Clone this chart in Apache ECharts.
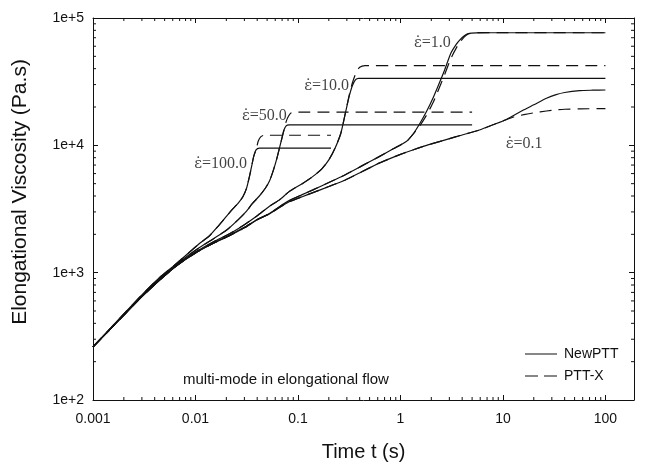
<!DOCTYPE html>
<html><head><meta charset="utf-8">
<script src="https://cdn.jsdelivr.net/npm/echarts@6/dist/echarts.min.js"></script>
<style>html,body{margin:0;padding:0;background:#fff}#c{width:645px;height:467px}</style>
</head><body><div id="c"></div>
<script>
// ---- tick labels ----
const xTickValues = [0.001, 0.01, 0.1, 1, 10, 100];
const xTickLabels = ['0.001', '0.01', '0.1', '1', '10', '100'];
const yTickValues = [100, 1000, 10000, 100000];
const yTickLabels = ['1e+2', '1e+3', '1e+4', '1e+5'];

// ---- series: [time t (s), elongational viscosity (Pa.s)] ----
const newPTT_0_1 = [[0.001,262],[0.0015,365],[0.002,465],[0.003,650],[0.0045,880],[0.0065,1130],[0.01,1430],[0.015,1700],[0.0215,1950],[0.03,2250],[0.04,2600],[0.052,2880],[0.066,3250],[0.082,3600],[0.11,3950],[0.14,4250],[0.2,4750],[0.29,5350],[0.42,6200],[0.62,7250],[1.0,8500],[1.32,9200],[1.8,10000],[2.4,10700],[3.5,11700],[5.9,13200],[8,14500],[10.7,15900],[16,19000],[20,20800],[26.6,23400],[33,25000],[40,26000],[56,26900],[75,27100],[100,27200]];
const pttX_0_1 = [[0.001,262],[0.0015,365],[0.002,465],[0.003,650],[0.0045,880],[0.0065,1130],[0.01,1430],[0.015,1700],[0.0215,1950],[0.03,2250],[0.04,2600],[0.052,2880],[0.066,3250],[0.082,3600],[0.11,3950],[0.14,4250],[0.2,4750],[0.29,5350],[0.42,6200],[0.62,7250],[1.0,8500],[1.32,9200],[1.8,10000],[2.4,10700],[3.5,11700],[5.9,13200],[8,14500],[10.7,15900],[13,16800],[16,17400],[20,18000],[26.6,18600],[33,19000],[40,19200],[56,19350],[100,19400]];
const newPTT_1 = [[0.001,262],[0.0015,365],[0.002,465],[0.003,650],[0.0045,880],[0.0065,1130],[0.01,1430],[0.015,1710],[0.0215,1970],[0.03,2270],[0.04,2620],[0.052,2900],[0.066,3300],[0.082,3680],[0.11,4100],[0.14,4470],[0.2,5100],[0.29,5880],[0.42,6900],[0.62,8150],[0.85,9400],[1.14,10700],[1.35,12500],[1.55,14900],[1.8,18500],[2.1,24000],[2.4,31000],[2.7,39100],[3.1,52800],[3.5,62000],[3.8,67300],[4.2,72500],[4.6,75500],[5.5,76500],[10,76600],[100,76600]];
const pttX_1 = [[0.001,262],[0.0015,365],[0.002,465],[0.003,650],[0.0045,880],[0.0065,1130],[0.01,1430],[0.015,1710],[0.0215,1970],[0.03,2270],[0.04,2620],[0.052,2900],[0.066,3300],[0.082,3680],[0.11,4100],[0.14,4470],[0.2,5100],[0.29,5880],[0.42,6900],[0.62,8150],[0.85,9400],[1.14,10700],[1.35,12400],[1.55,14300],[1.8,17300],[2.1,22000],[2.4,28500],[2.7,36000],[3.1,48000],[3.5,58000],[3.8,64500],[4.2,71000],[4.6,75000],[5.5,76800],[10,76700],[100,76600]];
const newPTT_10 = [[0.001,262],[0.0015,365],[0.002,465],[0.003,650],[0.0045,880],[0.0065,1140],[0.01,1450],[0.015,1750],[0.0215,2020],[0.03,2380],[0.04,2800],[0.052,3300],[0.066,3730],[0.082,4330],[0.11,5000],[0.139,5680],[0.17,6500],[0.2,7680],[0.23,9500],[0.262,12450],[0.29,17870],[0.315,24000],[0.34,29500],[0.365,32800],[0.39,33600],[1,33600],[100,33600]];
const pttX_10 = [[0.001,262],[0.0015,365],[0.002,465],[0.003,650],[0.0045,880],[0.0065,1140],[0.01,1450],[0.015,1750],[0.0215,2020],[0.03,2380],[0.04,2800],[0.052,3300],[0.066,3730],[0.082,4330],[0.11,5000],[0.139,5680],[0.17,6500],[0.2,7680],[0.23,9500],[0.262,12450],[0.29,17870],[0.315,24500],[0.34,31000],[0.37,37500],[0.4,41000],[0.45,42300],[1,42300],[100,42300]];
const newPTT_50 = [[0.001,262],[0.0015,365],[0.002,470],[0.003,660],[0.0045,900],[0.0065,1160],[0.01,1500],[0.015,1850],[0.02,2150],[0.026,2600],[0.031,3000],[0.036,3500],[0.042,4000],[0.048,4600],[0.053,5300],[0.058,6500],[0.063,8200],[0.068,10500],[0.073,13200],[0.077,14300],[0.082,14500],[1,14500],[5,14500]];
const pttX_50 = [[0.001,262],[0.0015,365],[0.002,470],[0.003,660],[0.0045,900],[0.0065,1160],[0.01,1500],[0.015,1850],[0.02,2150],[0.026,2600],[0.031,3000],[0.036,3500],[0.042,4000],[0.048,4600],[0.053,5300],[0.058,6500],[0.063,8200],[0.068,10500],[0.073,13200],[0.077,15500],[0.081,17000],[0.086,18000],[0.095,18200],[1,18200],[5,18200]];
const newPTT_100 = [[0.001,262],[0.0015,370],[0.002,475],[0.003,670],[0.0045,920],[0.006,1115],[0.0085,1420],[0.011,1700],[0.0137,1950],[0.0165,2300],[0.0199,2750],[0.023,3150],[0.026,3500],[0.029,3950],[0.0315,4600],[0.0336,5680],[0.0355,7000],[0.037,8200],[0.039,9200],[0.042,9500],[0.1,9500],[0.21,9500]];
const pttX_100 = [[0.001,262],[0.0015,370],[0.002,475],[0.003,670],[0.0045,920],[0.006,1115],[0.0085,1420],[0.011,1700],[0.0137,1950],[0.0165,2300],[0.0199,2750],[0.023,3150],[0.026,3500],[0.029,3950],[0.0315,4600],[0.0336,5680],[0.0355,7000],[0.037,8200],[0.039,9200],[0.041,10800],[0.0435,11700],[0.047,12000],[0.1,12000],[0.21,12000]];

// ---- annotations ----
const rateValues = ['0.1', '1.0', '10.0', '50.0', '100.0'];
const rateLabelAt = [[16.1, 10250], [2.05, 63700], [0.19, 29300], [0.047, 17000], [0.0176, 7140]];
const noteText = 'multi-mode in elongational flow';
const legendNames = ['NewPTT', 'PTT-X'];

const X_MIN = 0.001, X_MAX = 190, Y_MIN = 100, Y_MAX = 100000;

// minor tick positions (2..9 per decade)
const minorTicks = [];
for (let e = -3; e <= 2; e++) for (let m = 2; m <= 9; m++) { const t = m * Math.pow(10, e); if (t < X_MAX) minorTicks.push([t, Y_MIN, 0]); }
for (let e = 2; e <= 4; e++) for (let m = 2; m <= 9; m++) minorTicks.push([X_MIN, m * Math.pow(10, e), 1]);

function lbl(values, labels) {
  return v => { const i = values.findIndex(a => Math.abs(Math.log10(a) - Math.log10(v)) < 1e-6); return i >= 0 ? labels[i] : ''; };
}

const INK = '#111';
const solid = { color: INK, width: 1.2, type: 'solid' };
const dashed = { color: INK, width: 1.2, type: [12, 7] };
function line(name, data, style) {
  return { type: 'line', name, data, showSymbol: false, symbol: 'none', smooth: 0.2, lineStyle: style, itemStyle: { color: INK }, silent: true, z: 3 };
}
// legend icons (line glyphs, with corner specks to keep a 32x14 box)
const iconSolid = 'path://M0,0L0.05,0L0.05,0.05Z M0,6.4L32,6.4L32,7.6L0,7.6Z M31.95,13.95L32,13.95L32,14Z';
const iconDashed = 'path://M0,0L0.05,0L0.05,0.05Z M0,6.4L13,6.4L13,7.6L0,7.6Z M19,6.4L32,6.4L32,7.6L19,7.6Z M31.95,13.95L32,13.95L32,14Z';

const chart = echarts.init(document.getElementById('c'), null, { renderer: 'canvas' });
const axCommon = {
  type: 'log', logBase: 10,
  axisLine: { show: true, onZero: false, lineStyle: { color: INK, width: 1 } },
  axisTick: { show: true, inside: true, length: 5, lineStyle: { color: INK } },
  splitLine: { show: false }, minorTick: { show: false }
};
chart.setOption({
  animation: false,
  backgroundColor: '#fff',
  grid: { left: 93, right: 11, top: 18, bottom: 67, containLabel: false },
  legend: {
    data: [{ name: legendNames[0], icon: iconSolid }, { name: legendNames[1], icon: iconDashed }],
    orient: 'vertical', left: 520, top: 342,
    itemWidth: 32, itemHeight: 14, itemGap: 8,
    itemStyle: { color: INK, borderWidth: 0 },
    textStyle: { fontFamily: 'Liberation Sans', fontSize: 14, color: INK, padding: [0, 0, 0, 2] }
  },
  graphic: [{ type: 'text', left: 183, top: 372, style: { text: noteText, font: '15px "Liberation Sans"', fill: INK } }],
  xAxis: [
    Object.assign({}, axCommon, { position: 'bottom', min: X_MIN, max: X_MAX,
      axisLabel: { show: true, formatter: lbl(xTickValues, xTickLabels), margin: 12, fontFamily: 'Liberation Sans', fontSize: 14, color: INK, showMaxLabel: false },
      name: 'Time t (s)', nameLocation: 'middle', nameGap: 42, nameTextStyle: { fontFamily: 'Liberation Sans', fontSize: 20, color: INK } }),
    Object.assign({}, axCommon, { position: 'top', min: X_MIN, max: X_MAX, axisLabel: { show: false } })
  ],
  yAxis: [
    Object.assign({}, axCommon, { position: 'left', min: Y_MIN, max: Y_MAX,
      axisLabel: { show: true, formatter: lbl(yTickValues, yTickLabels), margin: 9, fontFamily: 'Liberation Sans', fontSize: 14, color: INK },
      name: 'Elongational Viscosity (Pa.s)', nameLocation: 'middle', nameGap: 62,
      nameTextStyle: { fontFamily: 'Liberation Sans', fontSize: 21, color: INK, padding: [0, 0, 0, 34] } }),
    Object.assign({}, axCommon, { position: 'right', min: Y_MIN, max: Y_MAX, axisLabel: { show: false } })
  ],
  series: [
    line('NewPTT', newPTT_0_1, solid), line('PTT-X', pttX_0_1, dashed),
    line('NewPTT', newPTT_1, solid), line('PTT-X', pttX_1, dashed),
    line('NewPTT', newPTT_10, solid), line('PTT-X', pttX_10, dashed),
    line('NewPTT', newPTT_50, solid), line('PTT-X', pttX_50, dashed),
    line('NewPTT', newPTT_100, solid), line('PTT-X', pttX_100, dashed),
    {
      type: 'scatter', name: 'rates', symbolSize: 0, silent: true, z: 5,
      data: rateLabelAt.map((p, i) => ({ value: p, label: { formatter: '{e|\u03b5\u0307}{t|=' + rateValues[i] + '}' } })),
      label: { show: true, position: 'inside', color: INK,
        rich: { e: { fontFamily: 'DejaVu Serif', fontSize: 15, color: INK }, t: { fontFamily: 'Liberation Serif', fontSize: 16, color: INK } } }
    },
    {
      type: 'custom', name: 'minorTicks', silent: true, clip: false, z: 4,
      data: minorTicks,
      renderItem: function (params, api) {
        const kind = api.value(2);
        const ch = [];
        if (kind === 0) {
          const b = api.coord([api.value(0), Y_MIN]);
          const t = api.coord([api.value(0), Y_MAX]);
          ch.push({ type: 'line', shape: { x1: b[0], y1: b[1], x2: b[0], y2: b[1] - 3 }, style: { stroke: INK, lineWidth: 1 } });
          ch.push({ type: 'line', shape: { x1: t[0], y1: t[1], x2: t[0], y2: t[1] + 3 }, style: { stroke: INK, lineWidth: 1 } });
        } else {
          const l = api.coord([X_MIN, api.value(1)]);
          const r = api.coord([X_MAX, api.value(1)]);
          ch.push({ type: 'line', shape: { x1: l[0], y1: l[1], x2: l[0] + 3, y2: l[1] }, style: { stroke: INK, lineWidth: 1 } });
          ch.push({ type: 'line', shape: { x1: r[0], y1: r[1], x2: r[0] - 3, y2: r[1] }, style: { stroke: INK, lineWidth: 1 } });
        }
        return { type: 'group', children: ch };
      }
    }
  ]
});
</script></body></html>
